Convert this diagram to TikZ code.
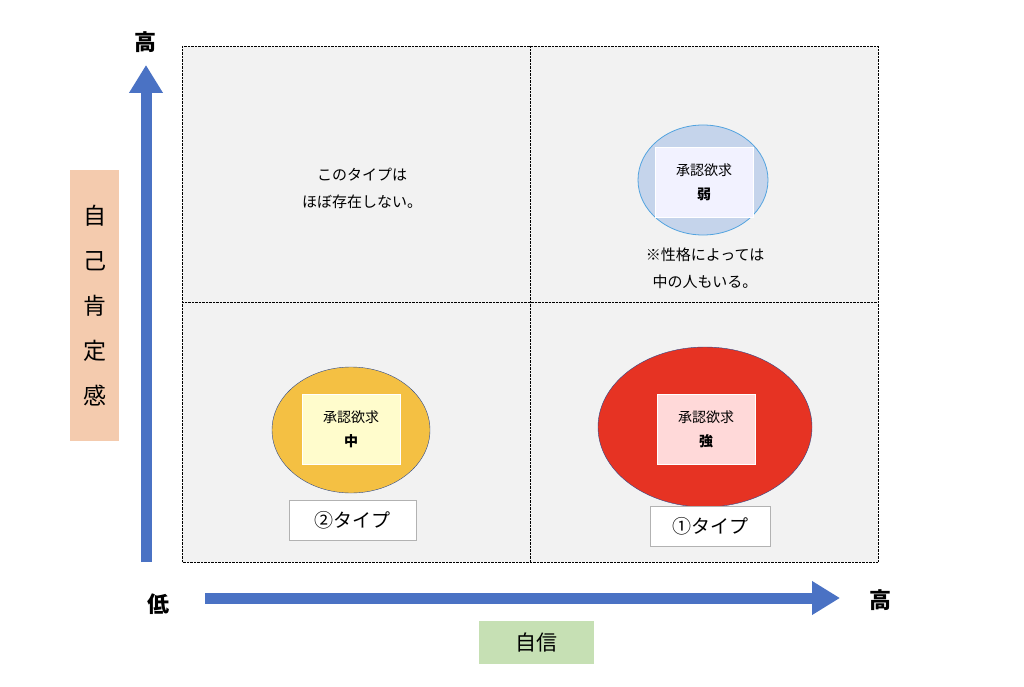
\documentclass[tikz,border=0pt]{standalone}
\usepackage{fontspec}
\setmainfont{Noto Sans CJK JP}
\usetikzlibrary{arrows.meta}
\definecolor{gridbg}{HTML}{F2F2F2}
\definecolor{axisblue}{HTML}{4A72C4}
\definecolor{ringblue}{HTML}{2F4B8C}
\definecolor{skin}{HTML}{F4CBAE}
\definecolor{sage}{HTML}{C6E0B4}
\definecolor{paleblue}{HTML}{C5D4EB}
\definecolor{gold}{HTML}{F4C043}
\definecolor{scarlet}{HTML}{E63323}
\begin{document}
\begin{tikzpicture}[x=1pt,y=-1pt,
    axis/.style={axisblue, line width=11pt, -{Triangle[length=28pt,width=32pt]}},
    caption/.style={font=\fontsize{22}{24}\selectfont\bfseries},
    inner/.style={draw=white, minimum width=98pt, minimum height=70pt, align=center, font=\fontsize{14}{24}\selectfont},
    typebox/.style={draw=gray!60, fill=white, minimum height=40pt, font=\fontsize{19}{22}\selectfont},
    note/.style={align=center, font=\fontsize{15}{27}\selectfont}]
  \useasboundingbox (0,0) rectangle (1024,687);
  \fill[white] (0,0) rectangle (1024,687);

  % quadrants
  \draw[fill=gridbg, densely dotted] (182,46) rectangle (878,562);
  \draw[densely dotted] (530,46) -- (530,562);
  \draw[densely dotted] (182,302) -- (878,302);

  % axes
  \coordinate (ybot) at (146,562);
  \coordinate (ytop) at (146,65);
  \coordinate (xl) at (205,598);
  \coordinate (xr) at (840,598);
  \draw[axis] (ybot) -- (ytop);
  \draw[axis] (xl) -- (xr);
  \node[caption] (hiy) at (145,42) {高};
  \node[caption] (lo) at (158,604) {低};
  \node[caption] (hix) at (880,600) {高};
  \node[fill=skin, minimum width=49pt, minimum height=271pt, align=center,
        font=\fontsize{23}{45}\selectfont] (selfesteem) at (94.5,305.5) {自\\己\\肯\\定\\感};
  \node[fill=sage, minimum width=115pt, minimum height=43pt,
        font=\fontsize{21}{22}\selectfont] (conf) at (536.5,642.5) {自信};

  % top left
  \node[note] (none) at (362,188) {このタイプは\\ほぼ存在しない。};

  % top right
  \draw[fill=paleblue, draw=cyan!70!blue!70, thick] (703,180) ellipse (65 and 55);
  \node[inner, fill=blue!5!white] (weak) at (704,182) {承認欲求\\\textbf{弱}};
  \node[note] (memo) at (705,268) {※性格によっては\\中の人もいる。};

  % bottom left
  \draw[fill=gold, draw=ringblue] (351,430) ellipse (79 and 63);
  \node[inner, fill=yellow!20!white] (mid) at (351,429.5) {承認欲求\\\textbf{中}};
  \node[typebox, minimum width=127pt] (type2) at (352.5,520) {②タイプ};

  % bottom right
  \draw[fill=scarlet, draw=ringblue] (705,427) ellipse (107 and 80);
  \node[inner, fill=red!15!white] (strong) at (706,429.5) {承認欲求\\\textbf{強}};
  \node[typebox, minimum width=120pt] (type1) at (710,526) {①タイプ};
\end{tikzpicture}
\end{document}
